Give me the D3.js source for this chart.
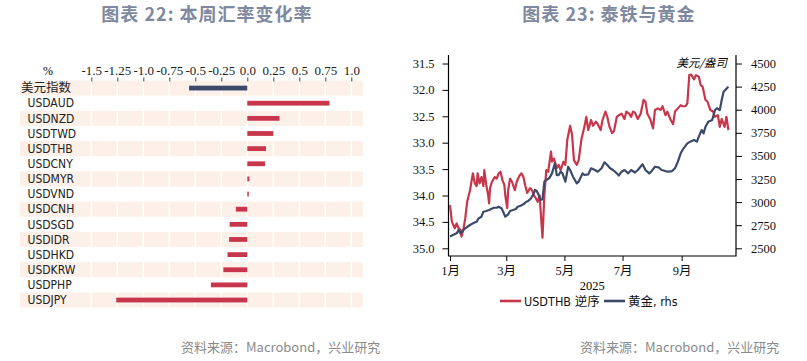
<!DOCTYPE html>
<html>
<head>
<meta charset="utf-8">
<script src="https://cdn.jsdelivr.net/npm/d3@7"></script>
<style>
  body { margin: 0; background: #fff; }
  svg { display: block; }
</style>
</head>
<body>
<svg id="chart" width="807" height="361"></svg>
<script>
// chart values
var YEAR = "2025";

var fxPairs = ["美元指数", "USDAUD", "USDNZD", "USDTWD", "USDTHB", "USDCNY", "USDMYR", "USDVND",
  "USDCNH", "USDSGD", "USDIDR", "USDHKD", "USDKRW", "USDPHP", "USDJPY"];
var fxChange = [-0.56, 0.79, 0.31, 0.25, 0.18, 0.17, 0.02, 0.01,
  -0.11, -0.17, -0.175, -0.19, -0.23, -0.35, -1.26];
var fxTicks = [-1.5, -1.25, -1.0, -0.75, -0.5, -0.25, 0, 0.25, 0.5, 0.75, 1.0];
var fxTickLabels = ["-1.5", "-1.25", "-1.0", "-0.75", "-0.5", "-0.25", "0.0", "0.25", "0.5", "0.75", "1.0"];

var thbTicks = [31.5, 32.0, 32.5, 33.0, 33.5, 34.0, 34.5, 35.0];
var goldTicks = [2500, 2750, 3000, 3250, 3500, 3750, 4000, 4250, 4500];
var monthTicks = ["01-01", "03-01", "05-01", "07-01", "09-01"];
var monthLabels = ["1月", "3月", "5月", "7月", "9月"];

var thbSeries = [
  ["01-01", 34.18], ["01-03", 34.50], ["01-06", 34.62], ["01-08", 34.53], ["01-10", 34.62], ["01-12", 34.65],
  ["01-13", 34.78], ["01-15", 34.65], ["01-17", 34.43], ["01-19", 34.12], ["01-22", 33.90], ["01-25", 33.58],
  ["01-27", 33.77], ["01-29", 33.82], ["01-30", 33.58], ["02-01", 33.77], ["02-03", 33.65], ["02-05", 33.82],
  ["02-06", 33.52], ["02-08", 33.80], ["02-10", 33.99], ["02-11", 34.15], ["02-12", 33.86], ["02-14", 33.74],
  ["02-17", 33.65], ["02-19", 33.68], ["02-21", 33.58], ["02-23", 33.55], ["02-25", 33.71], ["02-27", 33.80],
  ["02-28", 34.00], ["03-02", 34.24], ["03-03", 33.90], ["03-05", 33.68], ["03-07", 33.74], ["03-10", 33.90],
  ["03-12", 33.74], ["03-15", 33.62], ["03-17", 33.58], ["03-19", 33.65], ["03-21", 33.82], ["03-23", 33.95],
  ["03-26", 33.86], ["03-28", 33.90], ["03-30", 34.00], ["04-01", 34.05], ["04-03", 34.12], ["04-05", 34.00],
  ["04-08", 34.80], ["04-10", 33.99], ["04-12", 33.52], ["04-14", 33.55], ["04-17", 33.17], ["04-18", 33.36],
  ["04-20", 33.30], ["04-23", 33.48], ["04-25", 33.42], ["04-27", 33.52], ["04-30", 33.36], ["05-02", 33.42],
  ["05-04", 32.95], ["05-07", 32.68], ["05-09", 32.85], ["05-11", 33.33], ["05-14", 33.42], ["05-16", 33.33],
  ["05-19", 32.92], ["05-22", 32.70], ["05-24", 32.51], ["05-26", 32.76], ["05-29", 32.57], ["05-31", 32.68],
  ["06-03", 32.60], ["06-05", 32.65], ["06-08", 32.76], ["06-10", 32.57], ["06-13", 32.41], ["06-15", 32.51],
  ["06-17", 32.68], ["06-20", 32.82], ["06-22", 32.78], ["06-25", 32.51], ["06-27", 32.48], ["06-30", 32.45],
  ["07-03", 32.55], ["07-05", 32.41], ["07-08", 32.45], ["07-10", 32.51], ["07-12", 32.41], ["07-14", 32.43],
  ["07-17", 32.55], ["07-20", 32.45], ["07-23", 32.19], ["07-25", 32.22], ["07-27", 32.45], ["07-30", 32.55],
  ["08-02", 32.73], ["08-04", 32.38], ["08-07", 32.35], ["08-10", 32.38], ["08-12", 32.31], ["08-15", 32.48],
  ["08-17", 32.41], ["08-20", 32.55], ["08-23", 32.65], ["08-25", 32.41], ["08-28", 32.35], ["08-31", 32.29],
  ["09-02", 32.31], ["09-05", 32.31], ["09-07", 32.25], ["09-09", 31.72], ["09-11", 31.71], ["09-14", 31.80],
  ["09-16", 31.72], ["09-19", 31.75], ["09-21", 31.91], ["09-23", 31.94], ["09-26", 32.19], ["09-28", 32.22],
  ["10-01", 32.38], ["10-04", 32.41], ["10-06", 32.51], ["10-09", 32.48], ["10-11", 32.70], ["10-13", 32.55],
  ["10-16", 32.70], ["10-18", 32.51], ["10-20", 32.76]
];

var goldSeries = [
  ["01-01", 2626], ["01-04", 2644], ["01-08", 2662], ["01-10", 2698], ["01-12", 2662], ["01-15", 2698],
  ["01-17", 2716], ["01-22", 2752], ["01-25", 2770], ["01-29", 2788], ["01-31", 2824], ["02-03", 2842],
  ["02-05", 2896], ["02-08", 2904], ["02-11", 2915], ["02-13", 2925], ["02-16", 2939], ["02-19", 2939],
  ["02-21", 2950], ["02-24", 2933], ["02-26", 2890], ["02-28", 2842], ["03-03", 2868], ["03-05", 2904],
  ["03-08", 2915], ["03-11", 2925], ["03-13", 2950], ["03-16", 2961], ["03-19", 2976], ["03-22", 3004],
  ["03-24", 3012], ["03-27", 3041], ["03-30", 3095], ["03-31", 3131], ["04-02", 3120], ["04-04", 3077],
  ["04-06", 3023], ["04-08", 3030], ["04-10", 3221], ["04-12", 3239], ["04-15", 3257], ["04-18", 3311],
  ["04-21", 3420], ["04-23", 3293], ["04-25", 3293], ["04-27", 3329], ["04-29", 3311], ["05-02", 3221],
  ["05-05", 3383], ["05-07", 3347], ["05-10", 3275], ["05-14", 3203], ["05-16", 3221], ["05-20", 3311],
  ["05-22", 3293], ["05-26", 3300], ["05-29", 3366], ["06-02", 3347], ["06-05", 3329], ["06-09", 3366],
  ["06-12", 3431], ["06-15", 3402], ["06-18", 3366], ["06-21", 3347], ["06-25", 3311], ["06-27", 3286],
  ["06-30", 3329], ["07-03", 3347], ["07-07", 3311], ["07-10", 3347], ["07-14", 3320], ["07-17", 3347],
  ["07-22", 3409], ["07-25", 3347], ["07-29", 3311], ["07-31", 3329], ["08-04", 3383], ["08-08", 3375],
  ["08-11", 3347], ["08-15", 3336], ["08-18", 3329], ["08-22", 3336], ["08-25", 3366], ["08-28", 3437],
  ["08-31", 3528], ["09-03", 3582], ["09-07", 3636], ["09-10", 3654], ["09-14", 3672], ["09-17", 3654],
  ["09-19", 3708], ["09-22", 3780], ["09-24", 3744], ["09-26", 3816], ["09-29", 3870], ["10-03", 3888],
  ["10-06", 3997], ["10-08", 4015], ["10-11", 3997], ["10-13", 4105], ["10-15", 4195], ["10-20", 4249]
];

(function () {
  'use strict';

  var RED = "#c8364c", NAVY = "#3c4a6a";
  var TITLE_COLOR = "#7e89a0", SOURCE_COLOR = "#8a8a8a", BAND = "#fcf0e8";
  var SERIF = "'Liberation Serif', 'Noto Sans CJK SC', serif";
  var NARROW = "'Liberation Sans Narrow', 'DejaVu Sans Condensed', 'Noto Sans CJK SC', sans-serif";
  var CJK = "'Noto Sans CJK SC', sans-serif";

  var parseDate = d3.timeParse("%Y-%m-%d");
  function toDate(md) { return parseDate(YEAR + "-" + md); }

  var svg = d3.select("#chart");
  svg.append("rect").attr("width", 807).attr("height", 361).attr("fill", "#fff");

  // titles + sources
  svg.selectAll(".title")
    .data([{x: 207, t: "图表 22: 本周汇率变化率"}, {x: 609, t: "图表 23: 泰铁与黄金"}])
    .enter().append("text")
    .attr("class", "title")
    .attr("x", function (d) { return d.x; })
    .attr("y", 21)
    .attr("text-anchor", "middle")
    .style("font-family", CJK)
    .style("font-size", "18px")
    .style("font-weight", "bold")
    .style("letter-spacing", "1px")
    .attr("fill", TITLE_COLOR)
    .text(function (d) { return d.t; });

  svg.selectAll(".source")
    .data([181, 580])
    .enter().append("text")
    .attr("class", "source")
    .attr("x", function (d) { return d; })
    .attr("y", 352)
    .style("font-family", CJK)
    .style("font-size", "13px")
    .attr("fill", SOURCE_COLOR)
    .text("资料来源：Macrobond，兴业研究");

  // ---------- left: weekly fx change ----------
  var x1 = d3.scaleLinear().domain([-1.5, 1.0]).range([91.3, 351.3]);
  var y1 = d3.scaleBand().domain(fxPairs).range([80.5, 307.6]);
  var left = svg.append("g").attr("class", "fx");

  left.selectAll(".band")
    .data(fxPairs.filter(function (d, i) { return i % 2 === 0; }))
    .enter().append("rect")
    .attr("class", "band")
    .attr("x", 20)
    .attr("width", 343)
    .attr("y", function (d) { return y1(d); })
    .attr("height", y1.step())
    .attr("fill", BAND);

  left.selectAll(".grid")
    .data(fxTicks)
    .enter().append("line")
    .attr("class", "grid")
    .attr("x1", function (d) { return x1(d); })
    .attr("x2", function (d) { return x1(d); })
    .attr("y1", 80.5)
    .attr("y2", 307.6)
    .attr("stroke", "#fff")
    .attr("stroke-width", 1.5);

  var fxAxis = d3.axisTop(x1)
    .tickValues(fxTicks)
    .tickFormat(function (d, i) { return fxTickLabels[i]; })
    .tickSize(4)
    .tickPadding(3);
  var fxAxisG = left.append("g")
    .attr("transform", "translate(0,81.5)")
    .call(fxAxis);
  fxAxisG.select(".domain").remove();
  fxAxisG.selectAll(".tick line").attr("stroke", "#444");
  fxAxisG.selectAll(".tick text")
    .style("font-family", SERIF)
    .style("font-size", "13px")
    .attr("fill", "#222");

  left.append("text")
    .attr("x", 48).attr("y", 74.5)
    .attr("text-anchor", "middle")
    .style("font-family", SERIF)
    .style("font-size", "12px")
    .text("%");

  left.selectAll(".bar")
    .data(fxChange)
    .enter().append("rect")
    .attr("class", "bar")
    .attr("x", function (d) { return x1(Math.min(0, d)); })
    .attr("width", function (d) { return Math.max(1.5, Math.abs(x1(d) - x1(0))); })
    .attr("y", function (d, i) { return y1(fxPairs[i]) + y1.step() / 2 - 2.4; })
    .attr("height", 4.8)
    .attr("fill", function (d, i) { return i === 0 ? NAVY : RED; });

  left.selectAll(".label")
    .data(fxPairs)
    .enter().append("text")
    .attr("class", "label")
    .attr("x", function (d, i) { return i === 0 ? 21 : 27.5; })
    .attr("y", function (d) { return y1(d) + y1.step() / 2 + 4.2; })
    .style("font-family", function (d, i) { return i === 0 ? CJK : NARROW; })
    .style("font-size", function (d, i) { return i === 0 ? "12.5px" : "12px"; })
    .attr("fill", "#222")
    .text(function (d) { return d; });

  // ---------- right: THB (inverted) vs gold ----------
  var plotL = 448.5, plotR = 736, plotT = 55, plotB = 256;
  var x2 = d3.scaleTime().domain([toDate("01-01"), toDate("10-28")]).range([450, 736]);
  var yL = d3.scaleLinear().domain([31.5, 35.0]).range([63.5, 248.3]);
  var yR = d3.scaleLinear().domain([4500, 2500]).range([63.5, 248.3]);
  var right = svg.append("g").attr("class", "thb");

  function styleAxis(g) {
    g.select(".domain").remove();
    g.selectAll(".tick line").attr("stroke", "#000");
    g.selectAll(".tick text")
      .style("font-family", SERIF)
      .style("font-size", "12.5px")
      .attr("fill", "#111");
  }

  right.append("g")
    .attr("transform", "translate(" + plotL + ",0)")
    .call(d3.axisLeft(yL).tickValues(thbTicks).tickFormat(d3.format(".1f")).tickSize(6).tickPadding(8))
    .call(styleAxis);

  right.append("g")
    .attr("transform", "translate(" + plotR + ",0)")
    .call(d3.axisRight(yR).tickValues(goldTicks).tickFormat(d3.format("d")).tickSize(6).tickPadding(9))
    .call(styleAxis);

  right.append("g")
    .attr("transform", "translate(0," + plotB + ")")
    .call(d3.axisBottom(x2)
      .tickValues(monthTicks.map(toDate))
      .tickFormat(function (d, i) { return monthLabels[i]; })
      .tickSize(5).tickPadding(5))
    .call(styleAxis);

  right.append("path")
    .attr("d", "M" + plotL + "," + plotT + "V" + plotB + "H" + plotR + "V" + plotT)
    .attr("fill", "none")
    .attr("stroke", "#000")
    .attr("stroke-width", 1.2);

  right.append("text")
    .attr("x", (plotL + plotR) / 2).attr("y", 290)
    .attr("text-anchor", "middle")
    .style("font-family", SERIF)
    .style("font-size", "12.5px")
    .text(YEAR);

  right.append("text")
    .attr("x", 727).attr("y", 67)
    .attr("text-anchor", "end")
    .style("font-family", CJK)
    .style("font-size", "11.5px")
    .style("font-style", "italic")
    .text("美元/盎司");

  var thbLine = d3.line()
    .x(function (d) { return x2(toDate(d[0])); })
    .y(function (d) { return yL(d[1]); });
  var goldLine = d3.line()
    .x(function (d) { return x2(toDate(d[0])); })
    .y(function (d) { return yR(d[1]); });

  right.append("path")
    .datum(thbSeries)
    .attr("d", thbLine)
    .attr("fill", "none")
    .attr("stroke", RED)
    .attr("stroke-width", 2.2)
    .attr("stroke-linejoin", "round");

  right.append("path")
    .datum(goldSeries)
    .attr("d", goldLine)
    .attr("fill", "none")
    .attr("stroke", NAVY)
    .attr("stroke-width", 2.2)
    .attr("stroke-linejoin", "round");

  // legend
  var legend = right.selectAll(".legend")
    .data([{x: 500, c: RED, t: "USDTHB 逆序"}, {x: 604, c: NAVY, t: "黄金, rhs"}])
    .enter().append("g")
    .attr("class", "legend")
    .attr("transform", function (d) { return "translate(" + d.x + ",301)"; });
  legend.append("line")
    .attr("x1", 0).attr("x2", 21)
    .attr("stroke", function (d) { return d.c; })
    .attr("stroke-width", 2.6);
  legend.append("text")
    .attr("x", 24).attr("y", 4.5)
    .style("font-family", NARROW)
    .style("font-size", "12.5px")
    .attr("fill", "#111")
    .text(function (d) { return d.t; });
})();
</script>
</body>
</html>
